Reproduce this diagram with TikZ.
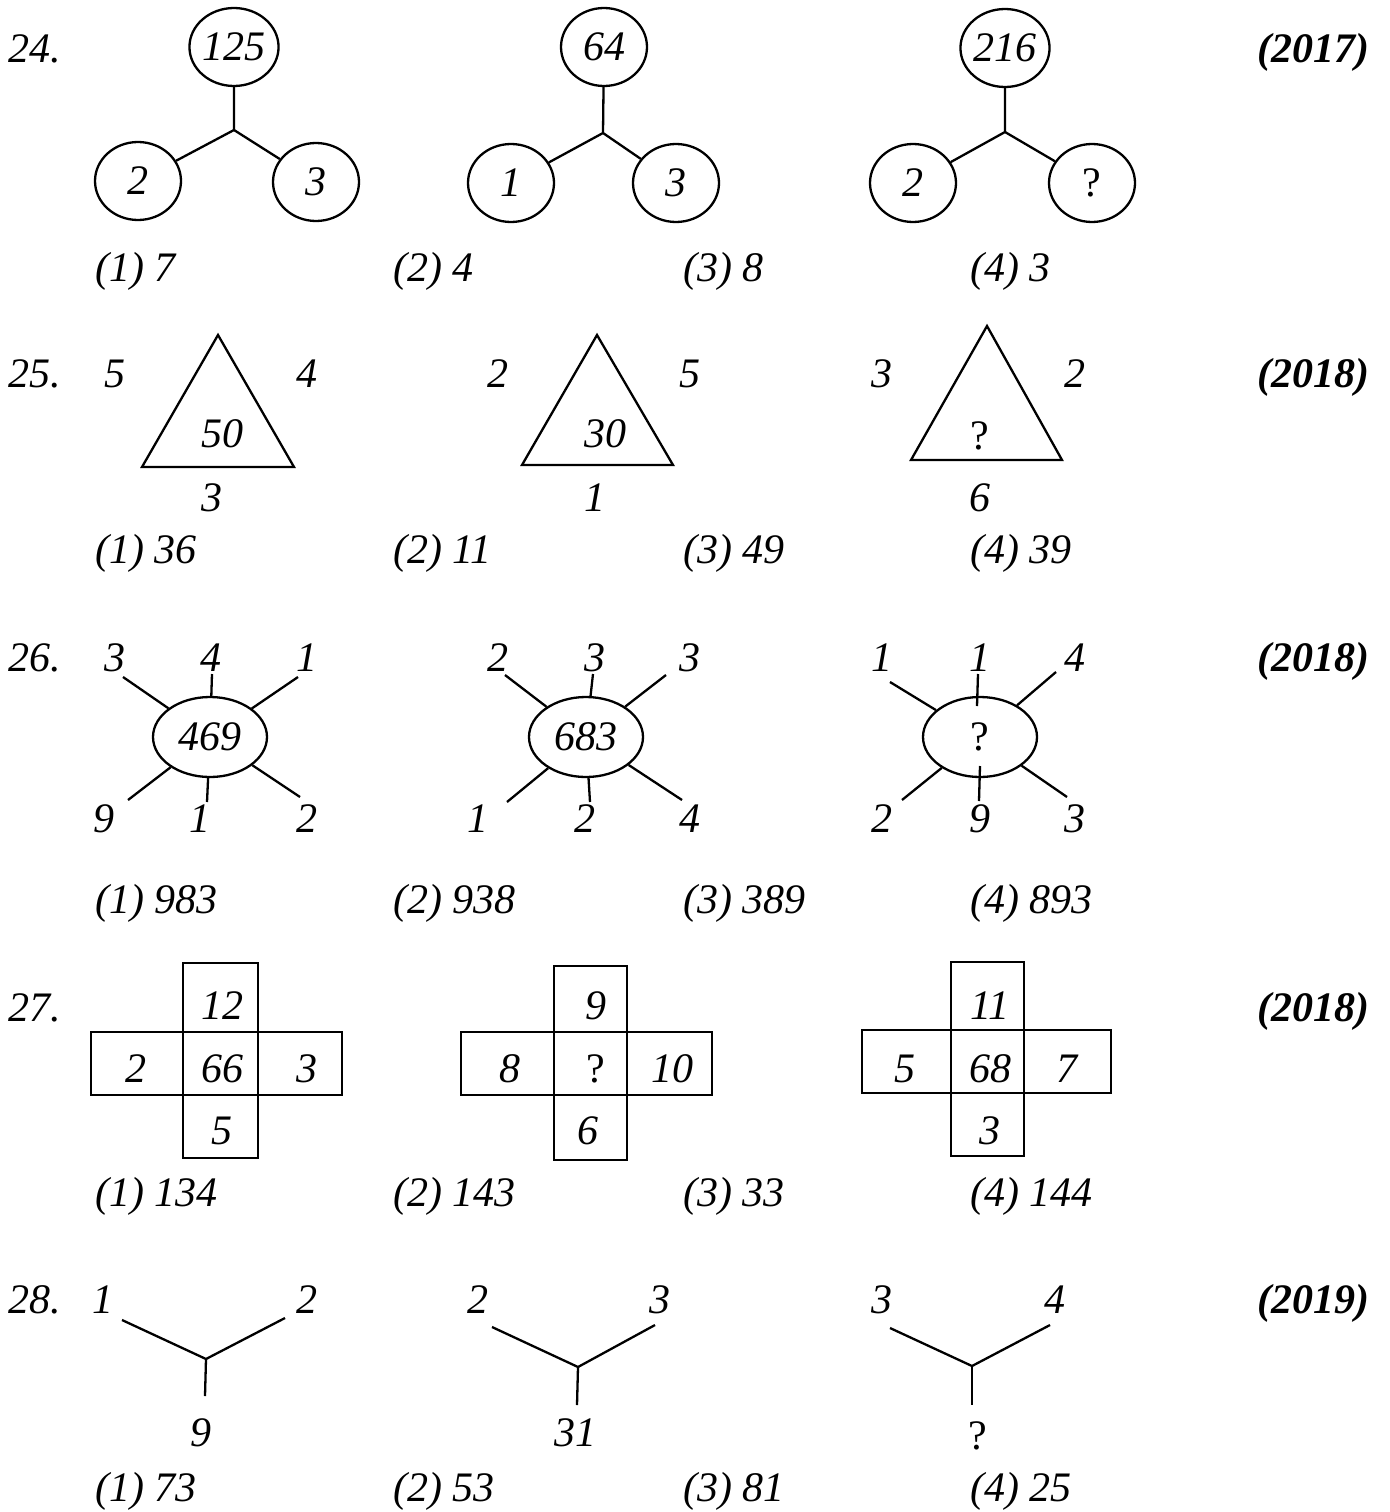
\documentclass[tikz,border=0pt]{standalone}
\usepackage{fontspec}
\setmainfont{Liberation Serif}
\usetikzlibrary{shapes.geometric}
\newcommand\myfs{\fontsize{42}{50}\selectfont}
\begin{document}
\begin{tikzpicture}[x=1pt,y=-1pt,
  txt/.style={anchor=base, inner sep=0pt, font=\myfs\itshape},
  qm/.style={anchor=base, inner sep=0pt, font=\myfs\upshape},
  opt/.style={anchor=base west, inner sep=0pt, font=\myfs\itshape},
  qno/.style={anchor=base west, inner sep=0pt, font=\myfs\itshape},
  yr/.style={anchor=base east, inner sep=0pt, font=\myfs\bfseries\itshape},
  ring/.style={draw, ellipse, line width=2.3pt, inner sep=0pt, minimum width=86pt, minimum height=78pt, font=\myfs\itshape},
  oval/.style={ring, minimum width=114pt, minimum height=80pt},
  ln/.style={line width=2.3pt}]
\useasboundingbox (0,0) rectangle (1389,1512);

% ---------------- 24 ----------------
\node[qno] (q24) at (8,63) {24.};
\node[yr] (y24) at (1370,63) {(2017)};
\node[ring] (a1) at (234,47) {125};
\node[ring] (a2) at (138,181) {2};
\node[ring] (a3) at (316,182) {3};
\coordinate (aj) at (234,130);
\draw[ln] (a1) -- (aj) -- (a2); \draw[ln] (aj) -- (a3);
\node[ring] (b1) at (604,47) {64};
\node[ring] (b2) at (511,183) {1};
\node[ring] (b3) at (676,183) {3};
\coordinate (bj) at (603,133);
\draw[ln] (b1) -- (bj) -- (b2); \draw[ln] (bj) -- (b3);
\node[ring] (c1) at (1005,48) {216};
\node[ring] (c2) at (913,183) {2};
\node[ring,font=\myfs\upshape] (c3) at (1092,183) {?};
\coordinate (cj) at (1005,132);
\draw[ln] (c1) -- (cj) -- (c2); \draw[ln] (cj) -- (c3);
\node[opt] (o241) at (95,281) {(1) 7};
\node[opt] (o242) at (393,281) {(2) 4};
\node[opt] (o243) at (683,281) {(3) 8};
\node[opt] (o244) at (970,281) {(4) 3};

% ---------------- 25 ----------------
\node[qno] (q25) at (8,387) {25.};
\node[yr] (y25) at (1370,387) {(2018)};
\draw[ln] (218,335) -- (142,467) -- (294,467) -- cycle;
\node[txt] (t1l) at (115,387) {5};
\node[txt] (t1r) at (307,387) {4};
\node[txt] (t1c) at (222,447) {50};
\node[txt] (t1b) at (212,511) {3};
\draw[ln] (597,335) -- (522,465) -- (673,465) -- cycle;
\node[txt] (t2l) at (498,387) {2};
\node[txt] (t2r) at (690,387) {5};
\node[txt] (t2c) at (605,447) {30};
\node[txt] (t2b) at (595,511) {1};
\draw[ln] (987,326) -- (911,460) -- (1062,460) -- cycle;
\node[txt] (t3l) at (882,387) {3};
\node[txt] (t3r) at (1075,387) {2};
\node[qm] (t3c) at (980,449) {?};
\node[txt] (t3b) at (980,511) {6};
\node[opt] (o251) at (95,563) {(1) 36};
\node[opt] (o252) at (393,563) {(2) 11};
\node[opt] (o253) at (683,563) {(3) 49};
\node[opt] (o254) at (970,563) {(4) 39};

% ---------------- 26 ----------------
\node[qno] (q26) at (8,671) {26.};
\node[yr] (y26) at (1370,671) {(2018)};
\node[oval] (e1) at (210,737) {469};
\coordinate (e1ul) at (123,677); \coordinate (e1t) at (212,674); \coordinate (e1ur) at (298,677);
\coordinate (e1ll) at (128,800); \coordinate (e1b) at (207,802); \coordinate (e1lr) at (300,797);
\foreach \p in {e1ul,e1t,e1ur,e1ll,e1b,e1lr} \draw[ln] (\p) -- (e1);
\node[txt] at (115,671) {3}; \node[txt] at (211,671) {4}; \node[txt] at (307,671) {1};
\node[txt] at (104,832) {9}; \node[txt] at (200,832) {1}; \node[txt] at (307,832) {2};

\node[oval] (e2) at (586,737) {683};
\coordinate (e2ul) at (505,675); \coordinate (e2t) at (593,674); \coordinate (e2ur) at (666,675);
\coordinate (e2ll) at (507,802); \coordinate (e2b) at (590,802); \coordinate (e2lr) at (682,800);
\foreach \p in {e2ul,e2t,e2ur,e2ll,e2b,e2lr} \draw[ln] (\p) -- (e2);
\node[txt] at (498,671) {2}; \node[txt] at (595,671) {3}; \node[txt] at (690,671) {3};
\node[txt] at (478,832) {1}; \node[txt] at (585,832) {2}; \node[txt] at (690,832) {4};

\node[oval,font=\myfs\upshape] (e3) at (980,737) {?};
\coordinate (e3ul) at (890,682); \coordinate (e3ur) at (1056,672);
\coordinate (e3ll) at (902,800); \coordinate (e3lr) at (1067,797);
\foreach \p in {e3ul,e3ur,e3ll,e3lr} \draw[ln] (\p) -- (e3);
\coordinate (e3t) at (978,674); \coordinate (e3ti) at (977,706);
\coordinate (e3b) at (979,801); \coordinate (e3bi) at (980,766);
\draw[ln] (e3t) -- (e3ti); \draw[ln] (e3b) -- (e3bi);
\node[txt] at (882,671) {1}; \node[txt] at (980,671) {1}; \node[txt] at (1075,671) {4};
\node[txt] at (882,832) {2}; \node[txt] at (980,832) {9}; \node[txt] at (1075,832) {3};
\node[opt] (o261) at (95,913) {(1) 983};
\node[opt] (o262) at (393,913) {(2) 938};
\node[opt] (o263) at (683,913) {(3) 389};
\node[opt] (o264) at (970,913) {(4) 893};

% ---------------- 27 ----------------
\node[qno] (q27) at (8,1021) {27.};
\node[yr] (y27) at (1370,1021) {(2018)};
\draw[ln] (183,963) rectangle (258,1158);
\draw[ln] (91,1032) rectangle (342,1095);
\node[txt] at (222,1019) {12}; \node[txt] at (136,1082) {2}; \node[txt] at (222,1082) {66};
\node[txt] at (307,1082) {3}; \node[txt] at (222,1144) {5};
\draw[ln] (554,966) rectangle (627,1160);
\draw[ln] (461,1032) rectangle (712,1095);
\node[txt] at (596,1019) {9}; \node[txt] at (510,1082) {8}; \node[qm] at (596,1082) {?};
\node[txt] at (672,1082) {10}; \node[txt] at (588,1144) {6};
\draw[ln] (951,962) rectangle (1024,1156);
\draw[ln] (862,1030) rectangle (1111,1093);
\node[txt] at (990,1019) {11}; \node[txt] at (905,1082) {5}; \node[txt] at (990,1082) {68};
\node[txt] at (1067,1082) {7}; \node[txt] at (990,1144) {3};
\node[opt] (o271) at (95,1206) {(1) 134};
\node[opt] (o272) at (393,1206) {(2) 143};
\node[opt] (o273) at (683,1206) {(3) 33};
\node[opt] (o274) at (970,1206) {(4) 144};

% ---------------- 28 ----------------
\node[qno] (q28) at (8,1313) {28.};
\node[yr] (y28) at (1370,1313) {(2019)};
\coordinate (ya1) at (122,1320); \coordinate (yb1) at (285,1318);
\coordinate (yj1) at (206,1359); \coordinate (ys1) at (205,1396);
\draw[ln] (ya1) -- (yj1) -- (yb1); \draw[ln] (yj1) -- (ys1);
\node[txt] at (103,1313) {1}; \node[txt] at (307,1313) {2}; \node[txt] at (201,1446) {9};
\coordinate (ya2) at (492,1327); \coordinate (yb2) at (655,1325);
\coordinate (yj2) at (578,1367); \coordinate (ys2) at (577,1405);
\draw[ln] (ya2) -- (yj2) -- (yb2); \draw[ln] (yj2) -- (ys2);
\node[txt] at (478,1313) {2}; \node[txt] at (660,1313) {3}; \node[txt] at (575,1446) {31};
\coordinate (ya3) at (890,1328); \coordinate (yb3) at (1050,1325);
\coordinate (yj3) at (972,1366); \coordinate (ys3) at (972,1405);
\draw[ln] (ya3) -- (yj3) -- (yb3); \draw[ln] (yj3) -- (ys3);
\node[txt] at (882,1313) {3}; \node[txt] at (1055,1313) {4}; \node[qm] at (978,1449) {?};
\node[opt] (o281) at (95,1501) {(1) 73};
\node[opt] (o282) at (393,1501) {(2) 53};
\node[opt] (o283) at (683,1501) {(3) 81};
\node[opt] (o284) at (970,1501) {(4) 25};
\end{tikzpicture}
\end{document}
